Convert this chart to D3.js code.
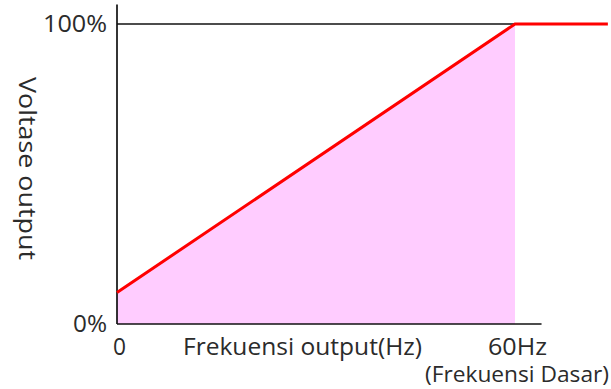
<!DOCTYPE html>
<html>
<head>
<meta charset="utf-8">
<script src="https://d3js.org/d3.v7.min.js"></script>
<style>
  body { margin: 0; background: #fff; }
  text { font-family: "Open Sans", sans-serif; fill: #2b2b2b; }
</style>
</head>
<body>
<div id="chart"></div>
<script>
// frequency (Hz) vs voltage (%)
var freq = [0, 60, 74];
var volt = [10.5, 100, 100];
var fillFreq = [0, 60];
var fillVolt = [10.5, 100];
var xTicks = [0, 60];
var xTickLabels = ["0", "60Hz"];
var yTicks = [0, 100];
var yTickLabels = ["0%", "100%"];

var width = 611, height = 389;

var svg = d3.select("#chart")
  .append("svg")
    .attr("width", width)
    .attr("height", height);

var x = d3.scaleLinear()
  .domain([0, 60])
  .range([117, 515]);

var y = d3.scaleLinear()
  .domain([0, 100])
  .range([324, 24]);

// shaded area under the curve
var area = d3.area()
  .x(function(d, i) { return x(fillFreq[i]); })
  .y0(y(0))
  .y1(function(d, i) { return y(fillVolt[i]); });

svg.append("path")
  .datum(fillFreq)
  .attr("d", area)
  .attr("fill", "#ffccff");

// top reference line at 100%
svg.append("line")
  .attr("x1", x(0)).attr("x2", x(60))
  .attr("y1", y(100)).attr("y2", y(100))
  .attr("stroke", "#111")
  .attr("stroke-width", 1.5);

// axes
svg.append("line")
  .attr("x1", x(0)).attr("x2", x(64))
  .attr("y1", y(0)).attr("y2", y(0))
  .attr("stroke", "#111")
  .attr("stroke-width", 1.7);

svg.append("line")
  .attr("x1", x(0)).attr("x2", x(0))
  .attr("y1", y(0)).attr("y2", y(106.5))
  .attr("stroke", "#111")
  .attr("stroke-width", 1.7);

// V/f line
var line = d3.line()
  .x(function(d, i) { return x(freq[i]); })
  .y(function(d, i) { return y(volt[i]); });

svg.append("path")
  .datum(freq)
  .attr("d", line)
  .attr("fill", "none")
  .attr("stroke", "#ff0000")
  .attr("stroke-width", 3);

// labels, widths
function label(txt, tx, ty, len, size) {
  return svg.append("text")
    .attr("x", tx)
    .attr("y", ty)
    .attr("textLength", len)
    .attr("lengthAdjust", "spacingAndGlyphs")
    .style("font-size", size + "px")
    .text(txt);
}

var yLen = [34, 64];
yTicks.forEach(function(d, i) {
  label(yTickLabels[i], 107 - yLen[i], y(d) + 8, yLen[i], 23);
});

var xLen = [13, 59];
var xOff = [-4, -27];
xTicks.forEach(function(d, i) {
  label(xTickLabels[i], x(d) + xOff[i], 355, xLen[i], 23);
});

label("Frekuensi output(Hz)", 183, 355, 239, 23);
label("(Frekuensi Dasar)", 425, 382, 184, 21);

svg.append("text")
  .attr("transform", "translate(19,77) rotate(90)")
  .attr("textLength", 183)
  .attr("lengthAdjust", "spacingAndGlyphs")
  .style("font-size", "23px")
  .text("Voltase output");
</script>
</body>
</html>
